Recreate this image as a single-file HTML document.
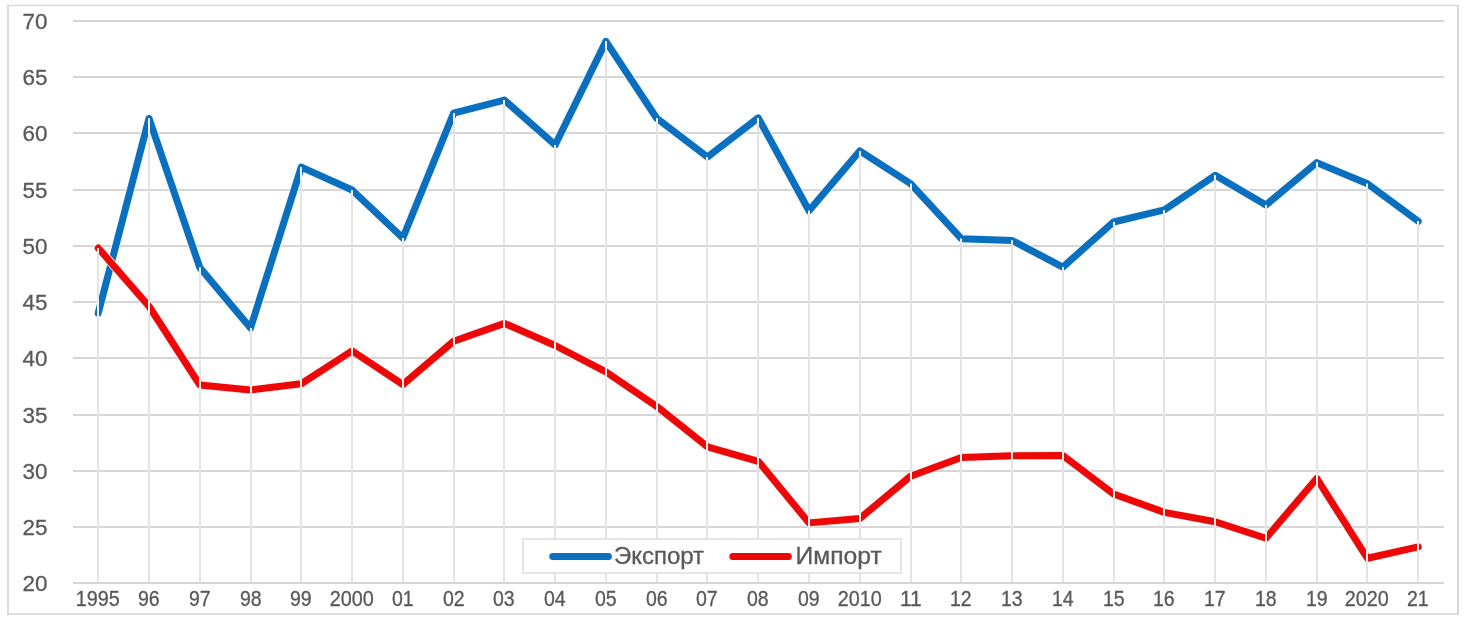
<!DOCTYPE html>
<html><head><meta charset="utf-8"><title>Chart</title>
<style>
html,body{margin:0;padding:0;background:#fff;}
body{width:1464px;height:620px;overflow:hidden;font-family:"Liberation Sans",sans-serif;}
svg{display:block;will-change:transform;}
text{font-family:"Liberation Sans",sans-serif;fill:#595959;stroke:#595959;stroke-width:0.3px;}
</style></head><body>
<svg width="1464" height="620" viewBox="0 0 1464 620">
<rect x="0" y="0" width="1464" height="620" fill="#ffffff"/>
<g stroke="#d6d6d6" fill="none">
<line x1="7.15" y1="5.6" x2="1459" y2="5.6" stroke-width="1.5" stroke="#dadada"/>
<line x1="7.15" y1="614" x2="1459" y2="614" stroke-width="1.6"/>
<line x1="8" y1="5" x2="8" y2="614.8" stroke-width="1.7"/>
<line x1="1458" y1="5" x2="1458" y2="614.8" stroke-width="1.9"/>
</g>

<g stroke="#d6d6d6" stroke-width="2">
<line x1="73" y1="21" x2="1444" y2="21"/>
<line x1="73" y1="77" x2="1444" y2="77"/>
<line x1="73" y1="133" x2="1444" y2="133"/>
<line x1="73" y1="190" x2="1444" y2="190"/>
<line x1="73" y1="246" x2="1444" y2="246"/>
<line x1="73" y1="302" x2="1444" y2="302"/>
<line x1="73" y1="358" x2="1444" y2="358"/>
<line x1="73" y1="415" x2="1444" y2="415"/>
<line x1="73" y1="471" x2="1444" y2="471"/>
<line x1="73" y1="527" x2="1444" y2="527"/>
<line x1="73" y1="583" x2="1444" y2="583"/>
</g>
<polyline fill="none" stroke="#f1faff" stroke-width="8.6" stroke-linejoin="round" stroke-linecap="round" points="98.22,313.24 148.99,118.45 199.76,267.49 250.53,327.96 301.30,167.12 352.07,190.05 402.84,238.04 453.61,113.17 504.38,100.02 555.15,144.98 605.92,41.34 656.69,118.23 707.46,157.00 758.23,117.89 809.00,210.73 859.77,150.93 910.54,183.64 961.31,238.72 1012.08,240.52 1062.85,267.04 1113.62,221.97 1164.39,209.94 1215.16,175.33 1265.93,205.00 1316.70,162.62 1367.47,183.76 1418.24,221.30"/>
<polyline fill="none" stroke="#0a6fbe" stroke-width="7" stroke-linejoin="round" stroke-linecap="round" points="98.22,313.24 148.99,118.45 199.76,267.49 250.53,327.96 301.30,167.12 352.07,190.05 402.84,238.04 453.61,113.17 504.38,100.02 555.15,144.98 605.92,41.34 656.69,118.23 707.46,157.00 758.23,117.89 809.00,210.73 859.77,150.93 910.54,183.64 961.31,238.72 1012.08,240.52 1062.85,267.04 1113.62,221.97 1164.39,209.94 1215.16,175.33 1265.93,205.00 1316.70,162.62 1367.47,183.76 1418.24,221.30"/>
<polyline fill="none" stroke="#fff2f2" stroke-width="8.6" stroke-linejoin="round" stroke-linecap="round" points="98.22,248.05 148.99,306.27 199.76,384.95 250.53,390.01 301.30,383.71 352.07,350.89 402.84,384.50 453.61,341.23 504.38,323.36 555.15,345.50 605.92,371.80 656.69,406.31 707.46,446.77 758.23,461.27 809.00,522.87 859.77,518.48 910.54,476.22 961.31,457.45 1012.08,455.65 1062.85,455.54 1113.62,493.98 1164.39,512.41 1215.16,521.74 1265.93,538.26 1316.70,478.47 1367.47,558.27 1418.24,546.81"/>
<polyline fill="none" stroke="#ee0707" stroke-width="7" stroke-linejoin="round" stroke-linecap="round" points="98.22,248.05 148.99,306.27 199.76,384.95 250.53,390.01 301.30,383.71 352.07,350.89 402.84,384.50 453.61,341.23 504.38,323.36 555.15,345.50 605.92,371.80 656.69,406.31 707.46,446.77 758.23,461.27 809.00,522.87 859.77,518.48 910.54,476.22 961.31,457.45 1012.08,455.65 1062.85,455.54 1113.62,493.98 1164.39,512.41 1215.16,521.74 1265.93,538.26 1316.70,478.47 1367.47,558.27 1418.24,546.81"/>
<g stroke="#e4e4e4" stroke-width="2">
<line x1="98" y1="248.05" x2="98" y2="582"/>
<line x1="149" y1="118.45" x2="149" y2="582"/>
<line x1="200" y1="267.49" x2="200" y2="582"/>
<line x1="251" y1="327.96" x2="251" y2="582"/>
<line x1="301" y1="167.12" x2="301" y2="582"/>
<line x1="352" y1="190.05" x2="352" y2="582"/>
<line x1="403" y1="238.04" x2="403" y2="582"/>
<line x1="454" y1="113.17" x2="454" y2="582"/>
<line x1="504" y1="100.02" x2="504" y2="582"/>
<line x1="555" y1="144.98" x2="555" y2="582"/>
<line x1="606" y1="41.34" x2="606" y2="582"/>
<line x1="657" y1="118.23" x2="657" y2="582"/>
<line x1="707" y1="157.00" x2="707" y2="582"/>
<line x1="758" y1="117.89" x2="758" y2="582"/>
<line x1="809" y1="210.73" x2="809" y2="582"/>
<line x1="860" y1="150.93" x2="860" y2="582"/>
<line x1="911" y1="183.64" x2="911" y2="582"/>
<line x1="961" y1="238.72" x2="961" y2="582"/>
<line x1="1012" y1="240.52" x2="1012" y2="582"/>
<line x1="1063" y1="267.04" x2="1063" y2="582"/>
<line x1="1114" y1="221.97" x2="1114" y2="582"/>
<line x1="1164" y1="209.94" x2="1164" y2="582"/>
<line x1="1215" y1="175.33" x2="1215" y2="582"/>
<line x1="1266" y1="205.00" x2="1266" y2="582"/>
<line x1="1317" y1="162.62" x2="1317" y2="582"/>
<line x1="1367" y1="183.76" x2="1367" y2="582"/>
<line x1="1418" y1="221.30" x2="1418" y2="582"/>
</g>
<mask id="sm" maskUnits="userSpaceOnUse" x="0" y="0" width="1464" height="620"><rect x="0" y="0" width="1464" height="620" fill="#000"/>
<polyline fill="none" stroke="#fff" stroke-width="7" stroke-linejoin="round" stroke-linecap="round" points="98.22,313.24 148.99,118.45 199.76,267.49 250.53,327.96 301.30,167.12 352.07,190.05 402.84,238.04 453.61,113.17 504.38,100.02 555.15,144.98 605.92,41.34 656.69,118.23 707.46,157.00 758.23,117.89 809.00,210.73 859.77,150.93 910.54,183.64 961.31,238.72 1012.08,240.52 1062.85,267.04 1113.62,221.97 1164.39,209.94 1215.16,175.33 1265.93,205.00 1316.70,162.62 1367.47,183.76 1418.24,221.30"/>
<polyline fill="none" stroke="#fff" stroke-width="7" stroke-linejoin="round" stroke-linecap="round" points="98.22,248.05 148.99,306.27 199.76,384.95 250.53,390.01 301.30,383.71 352.07,350.89 402.84,384.50 453.61,341.23 504.38,323.36 555.15,345.50 605.92,371.80 656.69,406.31 707.46,446.77 758.23,461.27 809.00,522.87 859.77,518.48 910.54,476.22 961.31,457.45 1012.08,455.65 1062.85,455.54 1113.62,493.98 1164.39,512.41 1215.16,521.74 1265.93,538.26 1316.70,478.47 1367.47,558.27 1418.24,546.81"/>
</mask>
<g stroke="#f7eeee" stroke-width="2" mask="url(#sm)">
<line x1="98" y1="248.05" x2="98" y2="582"/>
<line x1="149" y1="118.45" x2="149" y2="582"/>
<line x1="200" y1="267.49" x2="200" y2="582"/>
<line x1="251" y1="327.96" x2="251" y2="582"/>
<line x1="301" y1="167.12" x2="301" y2="582"/>
<line x1="352" y1="190.05" x2="352" y2="582"/>
<line x1="403" y1="238.04" x2="403" y2="582"/>
<line x1="454" y1="113.17" x2="454" y2="582"/>
<line x1="504" y1="100.02" x2="504" y2="582"/>
<line x1="555" y1="144.98" x2="555" y2="582"/>
<line x1="606" y1="41.34" x2="606" y2="582"/>
<line x1="657" y1="118.23" x2="657" y2="582"/>
<line x1="707" y1="157.00" x2="707" y2="582"/>
<line x1="758" y1="117.89" x2="758" y2="582"/>
<line x1="809" y1="210.73" x2="809" y2="582"/>
<line x1="860" y1="150.93" x2="860" y2="582"/>
<line x1="911" y1="183.64" x2="911" y2="582"/>
<line x1="961" y1="238.72" x2="961" y2="582"/>
<line x1="1012" y1="240.52" x2="1012" y2="582"/>
<line x1="1063" y1="267.04" x2="1063" y2="582"/>
<line x1="1114" y1="221.97" x2="1114" y2="582"/>
<line x1="1164" y1="209.94" x2="1164" y2="582"/>
<line x1="1215" y1="175.33" x2="1215" y2="582"/>
<line x1="1266" y1="205.00" x2="1266" y2="582"/>
<line x1="1317" y1="162.62" x2="1317" y2="582"/>
<line x1="1367" y1="183.76" x2="1367" y2="582"/>
<line x1="1418" y1="221.30" x2="1418" y2="582"/>
</g>
<rect x="523" y="539" width="378" height="34" fill="#ffffff" stroke="#e3e3e3" stroke-width="1.8"/>
<line x1="552.7" y1="556.5" x2="608.4" y2="556.4" stroke="#0a6fbe" stroke-width="7" stroke-linecap="round"/>
<line x1="732.8" y1="556.5" x2="788.3" y2="556.4" stroke="#ee0707" stroke-width="7" stroke-linecap="round"/>
<text id="lg1" x="613.9" y="563.8" font-size="23" textLength="90.2" lengthAdjust="spacingAndGlyphs">Экспорт</text>
<text id="lg2" x="795.6" y="563.8" font-size="23" textLength="86.2" lengthAdjust="spacingAndGlyphs">Импорт</text>
<text class="yl" x="22.4" y="28.90" font-size="22.8" textLength="25" lengthAdjust="spacingAndGlyphs">70</text>
<text class="yl" x="22.4" y="84.90" font-size="22.8" textLength="25" lengthAdjust="spacingAndGlyphs">65</text>
<text class="yl" x="22.4" y="140.90" font-size="22.8" textLength="25" lengthAdjust="spacingAndGlyphs">60</text>
<text class="yl" x="22.4" y="197.90" font-size="22.8" textLength="25" lengthAdjust="spacingAndGlyphs">55</text>
<text class="yl" x="22.4" y="253.90" font-size="22.8" textLength="25" lengthAdjust="spacingAndGlyphs">50</text>
<text class="yl" x="22.4" y="309.90" font-size="22.8" textLength="25" lengthAdjust="spacingAndGlyphs">45</text>
<text class="yl" x="22.4" y="365.90" font-size="22.8" textLength="25" lengthAdjust="spacingAndGlyphs">40</text>
<text class="yl" x="22.4" y="422.90" font-size="22.8" textLength="25" lengthAdjust="spacingAndGlyphs">35</text>
<text class="yl" x="22.4" y="478.90" font-size="22.8" textLength="25" lengthAdjust="spacingAndGlyphs">30</text>
<text class="yl" x="22.4" y="534.90" font-size="22.8" textLength="25" lengthAdjust="spacingAndGlyphs">25</text>
<text class="yl" x="22.4" y="590.90" font-size="22.8" textLength="25" lengthAdjust="spacingAndGlyphs">20</text>
<text class="xl" x="97.85" y="605.6" font-size="21.5" text-anchor="middle" textLength="44.0" lengthAdjust="spacingAndGlyphs">1995</text>
<text class="xl" x="148.85" y="605.6" font-size="21.5" text-anchor="middle" textLength="21.7" lengthAdjust="spacingAndGlyphs">96</text>
<text class="xl" x="199.85" y="605.6" font-size="21.5" text-anchor="middle" textLength="21.7" lengthAdjust="spacingAndGlyphs">97</text>
<text class="xl" x="250.85" y="605.6" font-size="21.5" text-anchor="middle" textLength="21.7" lengthAdjust="spacingAndGlyphs">98</text>
<text class="xl" x="300.85" y="605.6" font-size="21.5" text-anchor="middle" textLength="21.7" lengthAdjust="spacingAndGlyphs">99</text>
<text class="xl" x="351.85" y="605.6" font-size="21.5" text-anchor="middle" textLength="44.0" lengthAdjust="spacingAndGlyphs">2000</text>
<text class="xl" x="402.85" y="605.6" font-size="21.5" text-anchor="middle" textLength="21.7" lengthAdjust="spacingAndGlyphs">01</text>
<text class="xl" x="453.85" y="605.6" font-size="21.5" text-anchor="middle" textLength="21.7" lengthAdjust="spacingAndGlyphs">02</text>
<text class="xl" x="503.85" y="605.6" font-size="21.5" text-anchor="middle" textLength="21.7" lengthAdjust="spacingAndGlyphs">03</text>
<text class="xl" x="554.85" y="605.6" font-size="21.5" text-anchor="middle" textLength="21.7" lengthAdjust="spacingAndGlyphs">04</text>
<text class="xl" x="605.85" y="605.6" font-size="21.5" text-anchor="middle" textLength="21.7" lengthAdjust="spacingAndGlyphs">05</text>
<text class="xl" x="656.85" y="605.6" font-size="21.5" text-anchor="middle" textLength="21.7" lengthAdjust="spacingAndGlyphs">06</text>
<text class="xl" x="706.85" y="605.6" font-size="21.5" text-anchor="middle" textLength="21.7" lengthAdjust="spacingAndGlyphs">07</text>
<text class="xl" x="757.85" y="605.6" font-size="21.5" text-anchor="middle" textLength="21.7" lengthAdjust="spacingAndGlyphs">08</text>
<text class="xl" x="808.85" y="605.6" font-size="21.5" text-anchor="middle" textLength="21.7" lengthAdjust="spacingAndGlyphs">09</text>
<text class="xl" x="859.85" y="605.6" font-size="21.5" text-anchor="middle" textLength="44.0" lengthAdjust="spacingAndGlyphs">2010</text>
<text class="xl" x="910.85" y="605.6" font-size="21.5" text-anchor="middle" textLength="21.7" lengthAdjust="spacingAndGlyphs">11</text>
<text class="xl" x="960.85" y="605.6" font-size="21.5" text-anchor="middle" textLength="21.7" lengthAdjust="spacingAndGlyphs">12</text>
<text class="xl" x="1011.85" y="605.6" font-size="21.5" text-anchor="middle" textLength="21.7" lengthAdjust="spacingAndGlyphs">13</text>
<text class="xl" x="1062.85" y="605.6" font-size="21.5" text-anchor="middle" textLength="21.7" lengthAdjust="spacingAndGlyphs">14</text>
<text class="xl" x="1113.85" y="605.6" font-size="21.5" text-anchor="middle" textLength="21.7" lengthAdjust="spacingAndGlyphs">15</text>
<text class="xl" x="1163.85" y="605.6" font-size="21.5" text-anchor="middle" textLength="21.7" lengthAdjust="spacingAndGlyphs">16</text>
<text class="xl" x="1214.85" y="605.6" font-size="21.5" text-anchor="middle" textLength="21.7" lengthAdjust="spacingAndGlyphs">17</text>
<text class="xl" x="1265.85" y="605.6" font-size="21.5" text-anchor="middle" textLength="21.7" lengthAdjust="spacingAndGlyphs">18</text>
<text class="xl" x="1316.85" y="605.6" font-size="21.5" text-anchor="middle" textLength="21.7" lengthAdjust="spacingAndGlyphs">19</text>
<text class="xl" x="1366.85" y="605.6" font-size="21.5" text-anchor="middle" textLength="44.0" lengthAdjust="spacingAndGlyphs">2020</text>
<text class="xl" x="1417.85" y="605.6" font-size="21.5" text-anchor="middle" textLength="21.7" lengthAdjust="spacingAndGlyphs">21</text>
</svg></body></html>
